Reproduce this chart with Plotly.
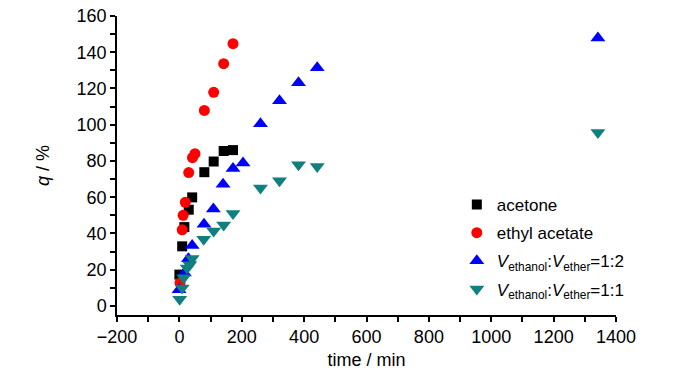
import plotly.graph_objects as go

# acetone
acetone_t = [0, 9, 16, 30, 41, 80, 110, 142, 172]
acetone_q = [17.3, 32.9, 43.5, 53.1, 59.9, 73.8, 79.7, 85.5, 86.0]
# ethyl acetate
ethyl_t = [2, 9, 12, 19, 30, 42, 50, 80, 110, 142, 172]
ethyl_q = [12.7, 42.0, 50.0, 57.2, 73.6, 81.8, 84.0, 107.9, 117.9, 133.7, 144.7]
# V_ethanol:V_ether = 1:2
v12_t = [-1, 16, 29, 41, 79, 109, 140, 172, 204, 260, 321, 382, 442, 1342]
v12_q = [9.0, 18.2, 26.1, 33.4, 45.1, 53.5, 67.1, 75.9, 78.9, 100.5, 113.3, 123.2, 131.5, 147.8]
# V_ethanol:V_ether = 1:1
v11_t = [1, 9, 14, 25, 33, 41, 78, 110, 142, 172, 260, 321, 382, 442, 1342]
v11_q = [3.7, 9.9, 15.6, 20.9, 22.7, 26.2, 36.8, 41.3, 44.6, 51.0, 65.1, 69.1, 77.9, 77.0, 95.7]

FONT = "Liberation Sans, Arial, sans-serif"

fig = go.Figure()
fig.add_trace(go.Scatter(x=acetone_t, y=acetone_q, mode="markers", name="acetone", legendgroup="a",
                         marker=dict(symbol="square", size=10, color="#000000")))
fig.add_trace(go.Scatter(x=ethyl_t, y=ethyl_q, mode="markers", name="ethyl acetate", legendgroup="b",
                         marker=dict(symbol="circle", size=11, color="#ff0000")))
fig.add_trace(go.Scatter(x=v12_t, y=v12_q, mode="markers", legendgroup="c",
                         name="<i>V</i><sub>ethanol</sub>:<i>V</i><sub>ether</sub>=1:2",
                         marker=dict(symbol="triangle-up", size=13, color="#0000ff")))
fig.add_trace(go.Scatter(x=v11_t, y=v11_q, mode="markers", legendgroup="d",
                         name="<i>V</i><sub>ethanol</sub>:<i>V</i><sub>ether</sub>=1:1",
                         marker=dict(symbol="triangle-down", size=13, color="#117f7f")))

axis_common = dict(showgrid=False, zeroline=False, showline=True, linecolor="black",
                   linewidth=1.5, ticks="outside", ticklen=5, tickwidth=1.5, tickcolor="black",
                   ticklabeloverflow="allow", automargin=False,
                   tickfont=dict(family=FONT, size=18, color="black"))

# the page body adds an 8px offset, margins compensate for it
fig.update_layout(
    width=700, height=375,
    margin=dict(l=109, r=92, t=8, b=68, autoexpand=False),
    plot_bgcolor="white", paper_bgcolor="white",
    font=dict(family=FONT, size=17, color="black"),
    xaxis=dict(range=[-200, 1400], tick0=0, dtick=200,
               minor=dict(dtick=100, ticks="outside", ticklen=5, tickwidth=1.5, tickcolor="black"),
               title=dict(text="time / min", font=dict(family=FONT, size=18), standoff=7),
               **axis_common),
    yaxis=dict(range=[-5, 160], tick0=0, dtick=20,
               minor=dict(dtick=10, ticks="outside", ticklen=5, tickwidth=1.5, tickcolor="black"),
               title=dict(text="<i>q</i> / %", font=dict(family=FONT, size=18), standoff=22),
               **axis_common),
    legend=dict(x=0.681, y=0.428, xanchor="left", yanchor="top",
                font=dict(family=FONT, size=17, color="black"),
                bgcolor="rgba(0,0,0,0)", tracegroupgap=3),
)

fig.write_html("out.html")
